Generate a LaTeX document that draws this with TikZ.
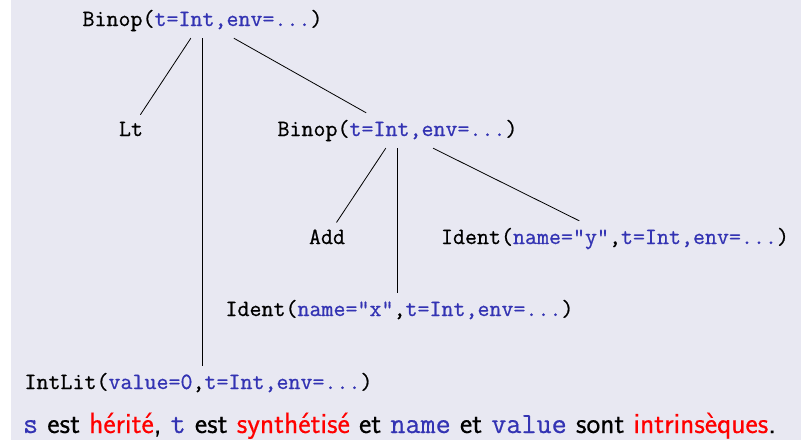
\documentclass[tikz,border=0pt]{standalone}
\usepackage{fontspec}
\newfontfamily\treett{Latin Modern Mono}[FakeBold=0.6]
\newfontfamily\notesf{Latin Modern Sans}[FakeBold=0.4]
\newfontfamily\notett{Latin Modern Mono}[FakeBold=0.6]
\usetikzlibrary{calc}
\definecolor{bgc}{RGB}{232,232,242}
\definecolor{attr}{RGB}{51,51,179}
\newcommand{\av}[1]{\textcolor{attr}{#1}}
\newcommand{\nt}[1]{\textcolor{attr}{\notett #1}}
\begin{document}
\begin{tikzpicture}[x=1pt,y=-1pt,
  tn/.style={font=\fontsize{23.3}{27}\treett, inner sep=6.8pt, anchor=base},
  edge/.style={line width=0.8pt}]
\useasboundingbox (0,0) rectangle (801,440);
\fill[bgc] (11,0) rectangle (801,440);
\node[tn] (root) at (202.5,26) {Binop(\av{t=Int,env=...})};
\node[tn] (lt) at (131,136) {Lt};
\node[tn] (b2) at (397.5,136) {Binop(\av{t=Int,env=...})};
\node[tn] (add) at (327,244) {Add};
\node[tn] (idy) at (615,244) {Ident(\av{name="y"},\av{t=Int,env=...})};
\node[tn] (idx) at (399.5,316) {Ident(\av{name="x"},\av{t=Int,env=...})};
\node[tn] (intlit) at (198.5,389) {IntLit(\av{value=0},\av{t=Int,env=...})};
\node[anchor=base, inner sep=0pt, font=\fontsize{29.3}{33}\notesf] (note) at (399.5,433)
  {\nt{s} est \textcolor{red}{hérité}, \nt{t} est \textcolor{red}{synthétisé} et \nt{name} et \nt{value} sont \textcolor{red}{intrinsèques}.};
\draw[edge] (root) -- (lt);
\draw[edge] (root.south) -- (root.south |- intlit.north);
\draw[edge] (root) -- (b2);
\draw[edge] (b2) -- (add);
\draw[edge] (b2.south) -- (b2.south |- idx.north);
\draw[edge] (b2) -- (idy);
\end{tikzpicture}
\end{document}
